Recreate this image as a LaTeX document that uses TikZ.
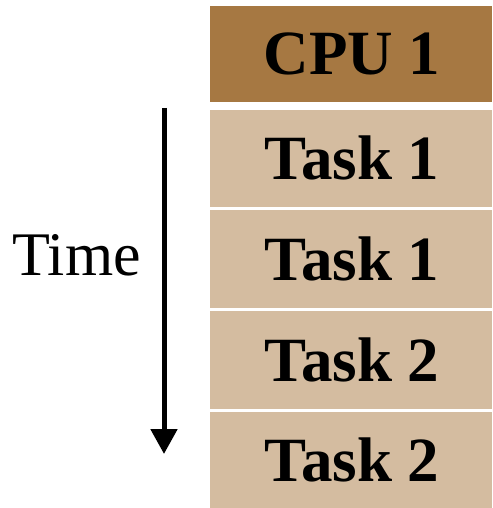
\documentclass[tikz,border=0pt]{standalone}
\usepackage{fontspec}
\setmainfont{Liberation Serif}
\usetikzlibrary{arrows.meta}
\definecolor{cpuc}{RGB}{166,120,66}
\definecolor{taskc}{RGB}{212,188,160}
\begin{document}
\begin{tikzpicture}[x=1pt,y=-1pt,
  blk/.style={inner sep=0pt, outer sep=0pt},
  lbl/.style={font=\fontsize{63}{63}\selectfont\bfseries, anchor=base, inner sep=0pt}]
\useasboundingbox (0,0) rectangle (492,508);
\fill[cpuc] (210,6) rectangle (492,102);
\fill[taskc] (210,110) rectangle (492,207);
\fill[taskc] (210,210) rectangle (492,308);
\fill[taskc] (210,311) rectangle (492,409);
\fill[taskc] (210,412) rectangle (492,508);
\node[lbl] (cpu) at (352,75) {CPU 1};
\node[lbl] (t1) at (352,179) {Task 1};
\node[lbl] (t2) at (352,280) {Task 1};
\node[lbl] (t3) at (352,381) {Task 2};
\node[lbl] (t4) at (352,481) {Task 2};
\coordinate (as) at (164,108);
\coordinate (ae) at (164,454);
\draw[line width=5pt, -{Triangle[width=26pt,length=25pt]}] (as) -- (ae);
\node[font=\fontsize{62}{62}\selectfont, anchor=base west, inner sep=0pt] (time) at (12,275) {Time};
\end{tikzpicture}
\end{document}
